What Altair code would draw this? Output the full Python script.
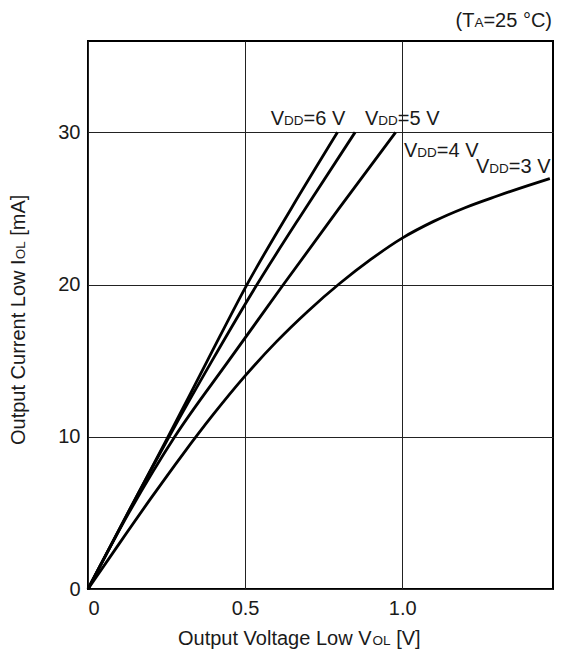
import altair as alt
import pandas as pd

# ---- data ----
v_6 = [0, 0.127, 0.255, 0.38, 0.506, 0.647, 0.794]
i_6 = [0, 5, 10, 15, 20, 25, 30]
v_5 = [0, 0.127, 0.258, 0.395, 0.538, 0.692, 0.85]
i_5 = [0, 5, 10, 15, 20, 25, 30]
v_4 = [0, 0.13, 0.276, 0.448, 0.622, 0.799, 0.979]
i_4 = [0, 5, 10, 15, 20, 25, 30]
v_3 = [0, 0.1, 0.2, 0.3, 0.4, 0.5, 0.6, 0.7, 0.8, 0.9, 1.0, 1.1, 1.2, 1.3, 1.4, 1.47]
i_3 = [0, 3.0, 5.95, 8.8, 11.5, 14.0, 16.25, 18.25, 20.05, 21.65, 23.05, 24.15, 25.05,
       25.8, 26.5, 26.96]

label_rest = ["=6 V", "=5 V", "=4 V", "=3 V"]
label_v = [0.5815, 0.8816, 1.0057, 1.235]
label_i = [30.49, 30.49, 28.4, 27.31]

x_ticks = [0, 0.5, 1.0]
y_ticks = [0, 10, 20, 30]

FONT = "Liberation Sans"
TXT = "#1a1a1a"
BIG = 20
SMALL = 13.5

rows = []
for name, vs, iss in [("6", v_6, i_6), ("5", v_5, i_5), ("4", v_4, i_4), ("3", v_3, i_3)]:
    for k, (v, i) in enumerate(zip(vs, iss)):
        rows.append({"s": name, "v": v, "i": i, "o": k})
df = pd.DataFrame(rows)
lab = pd.DataFrame({"v": label_v, "i": label_i, "rest": label_rest,
                    "V": ["V"] * 4, "DD": ["DD"] * 4})

xs = alt.Scale(domain=[0, 1.48], nice=False, zero=False)
ys = alt.Scale(domain=[0, 36], nice=False, zero=False)

xaxis = alt.Axis(values=x_ticks, title=None, grid=True, gridColor="#222", gridWidth=1,
                 domain=False, ticks=False, tickSize=0, labelFont=FONT, labelFontSize=BIG,
                 labelColor=TXT, labelPadding=9,
                 labelExpr="datum.value == 0 ? '0' : format(datum.value, '.1f')")
yaxis = alt.Axis(values=y_ticks, title=None, grid=True, gridColor="#222", gridWidth=1,
                 domain=False, ticks=False, tickSize=0, labelFont=FONT, labelFontSize=BIG,
                 labelColor=TXT, labelPadding=8)

lines = alt.Chart(df).mark_line(color="black", strokeWidth=2.8, interpolate="monotone").encode(
    x=alt.X("v:Q", scale=xs, axis=xaxis),
    y=alt.Y("i:Q", scale=ys, axis=yaxis),
    detail="s:N",
    order="o:Q",
)

def piece(field, size, dx):
    return alt.Chart(lab).mark_text(font=FONT, fontSize=size, color=TXT, align="left",
                                    baseline="alphabetic", dx=dx).encode(
        x=alt.X("v:Q", scale=xs), y=alt.Y("i:Q", scale=ys), text=f"{field}:N")

w_V = 0.667 * BIG
w_DD = 2 * 0.722 * SMALL
labels = piece("V", BIG, 0) + piece("DD", SMALL, w_V) + piece("rest", BIG, w_V + w_DD)

def fixed(txt, size, x, y, dx=0, angle=0):
    return alt.Chart(pd.DataFrame({"t": [txt]})).mark_text(
        font=FONT, fontSize=size, color=TXT, align="left", baseline="alphabetic",
        dx=dx, angle=angle).encode(x=alt.value(x), y=alt.value(y), text="t:N")

# (TA=25 °C) at top right
tx0, ty0 = 367.5, -13.7
cond = (fixed("(T", BIG, tx0, ty0) + fixed("A", SMALL, tx0 + 18.9, ty0)
        + fixed("=25 °C)", BIG, tx0 + 18.9 + 0.667 * SMALL, ty0))

# x title
xt0, xty = 90, 604
w1 = 9.728 * BIG
w2 = (0.778 + 0.556) * SMALL
xtitle = (fixed("Output Voltage Low V", BIG, xt0, xty) + fixed("OL", SMALL, xt0 + w1, xty)
          + fixed("[V]", BIG, xt0 + w1 + w2 + 0.278 * BIG, xty))

# y title (rotated)
yx, yy = -63, 404
wy1 = 9.282 * BIG
ytitle = (fixed("Output Current Low I", BIG, yx, yy, 0, 270)
          + fixed("OL", SMALL, yx, yy, wy1, 270)
          + fixed("[mA]", BIG, yx, yy, wy1 + w2 + 0.278 * BIG, 270))

chart = alt.layer(lines, labels, cond, xtitle, ytitle).properties(
    width=465, height=548,
    autosize=alt.AutoSizeParams(type="none"),
    padding={"left": 80, "top": 33, "right": 1, "bottom": 61},
).configure_view(stroke="black", strokeWidth=2)

chart.save("out.html", embed_options={"renderer": "svg", "actions": False})
